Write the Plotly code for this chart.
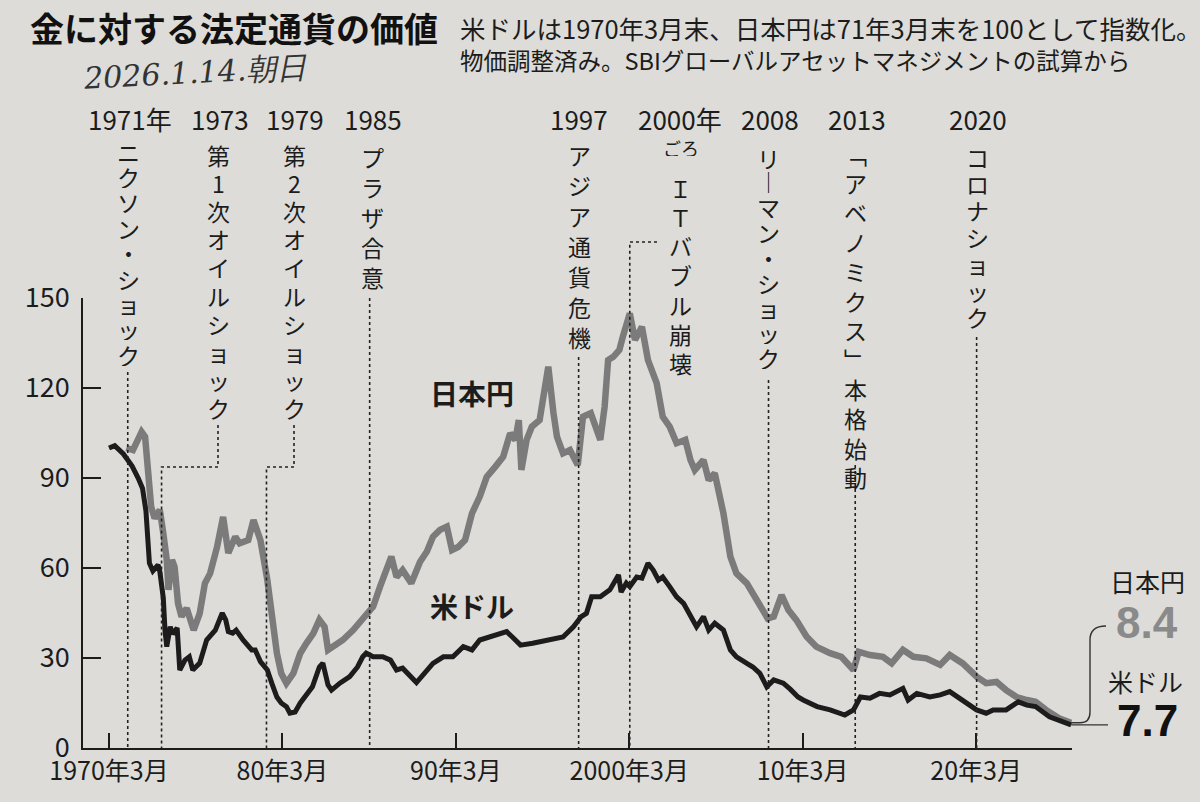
import plotly.graph_objects as go

TITLE = "金に対する法定通貨の価値"
NOTE_LINES = [
    "米ドルは1970年3月末、日本円は71年3月末を100として指数化。",
    "物価調整済み。SBIグローバルアセットマネジメントの試算から",
]
HANDWRITTEN = "2026.1.14.朝日"

# 米ドル (index, 1970年3月末 = 100)
usd_years = [
    1970.17, 1970.5, 1971.0, 1971.5, 1971.85, 1972.1, 1972.3, 1972.4, 1972.5, 1972.7,
    1973.0, 1973.1, 1973.3, 1973.4, 1973.5, 1973.7, 1973.85, 1974.1, 1974.25, 1974.55,
    1974.8, 1975.0, 1975.4, 1975.8, 1976.3, 1976.7, 1976.9, 1977.05, 1977.3, 1977.5,
    1977.9, 1978.4, 1978.6, 1978.9, 1979.3, 1979.55, 1979.85, 1980.1, 1980.4, 1980.6,
    1980.9, 1981.2, 1981.6, 1981.9, 1982.3, 1982.5, 1982.8, 1983.0, 1983.5, 1984.05,
    1984.5, 1984.8, 1985.0, 1985.4, 1985.95, 1986.4, 1986.75, 1987.1, 1987.9, 1988.5,
    1988.85, 1989.45, 1990.0, 1990.6, 1991.1, 1991.55, 1992.1, 1992.7, 1993.1, 1993.5,
    1993.9, 1994.6, 1995.6, 1996.35, 1996.95, 1997.4, 1997.7, 1998.0, 1998.5, 1999.05,
    1999.55, 1999.7, 2000.0, 2000.2, 2000.6, 2000.9, 2001.25, 2001.55, 2001.85, 2002.1,
    2002.5, 2002.9, 2003.3, 2003.7, 2004.05, 2004.45, 2004.75, 2005.1, 2005.6, 2006.0,
    2006.35, 2006.95, 2007.3, 2007.7, 2008.1, 2008.5, 2009.05, 2009.45, 2009.9, 2010.2,
    2011.0, 2011.75, 2012.6, 2013.1, 2013.5, 2014.05, 2014.6, 2015.2, 2015.95, 2016.25,
    2016.75, 2017.5, 2018.1, 2018.65, 2019.4, 2020.2, 2020.75, 2021.15, 2021.9, 2022.6,
    2023.1, 2023.6, 2024.4, 2025.1, 2025.65,
]
usd_values = [
    100, 100.8, 98, 94, 90, 86.6, 79, 67, 61.6, 59,
    61, 58.8, 50, 39, 33.8, 40.4, 38, 40, 26, 29.3,
    30.4, 26, 28.3, 36, 39.3, 45, 42.7, 38.8, 38.3, 39.3,
    36, 32.7, 32.7, 28.8, 26, 21.7, 17, 15, 13.8, 11.6,
    12, 15, 18, 20.4, 27, 28.3, 21, 19.3, 21.7, 23.8,
    27, 30.4, 31.6, 30.4, 30.4, 29.3, 26, 26.6, 21.8, 26,
    28.2, 30.4, 30.4, 33.8, 32.7, 36, 37, 38.2, 38.8, 36.6,
    34.3, 34.9, 36, 37, 40.4, 43.8, 44.9, 50.4, 50.4, 52.7,
    57.7, 52, 55, 53.8, 57, 56.6, 61.6, 59.3, 56, 57,
    53.8, 50.4, 48.2, 43.8, 40.4, 43.8, 39.3, 41.6, 39.3, 32.7,
    30.4, 28.2, 27, 24.9, 20.4, 22.7, 21.6, 19.6, 17, 16,
    13.8, 12.7, 11, 12.7, 17, 16.6, 18.2, 17.7, 19.9, 16,
    18.2, 17, 17.7, 18.8, 16, 12.7, 11.6, 12.7, 12.7, 15.4,
    14.3, 13.8, 10.4, 8.8, 7.7,
]

# 日本円 (index, 1971年3月末 = 100)
jpy_years = [
    1971.17, 1971.55, 1972.05, 1972.25, 1972.4, 1972.6, 1972.8, 1973.1, 1973.3, 1973.5,
    1973.6, 1973.8, 1973.95, 1974.15, 1974.35, 1974.65, 1975.05, 1975.4, 1975.7, 1976.0,
    1976.4, 1976.75, 1977.05, 1977.45, 1977.7, 1978.2, 1978.5, 1978.9, 1979.3, 1979.55,
    1979.85, 1980.1, 1980.4, 1980.8, 1981.2, 1981.55, 1981.95, 1982.3, 1982.6, 1982.8,
    1983.1, 1983.65, 1984.25, 1984.6, 1985.0, 1985.4, 1985.8, 1986.15, 1986.45, 1986.75,
    1987.1, 1987.6, 1988.1, 1988.5, 1988.85, 1989.25, 1989.65, 1989.95, 1990.3, 1990.7,
    1991.1, 1991.55, 1991.95, 1992.45, 1992.9, 1993.3, 1993.6, 1993.8, 1993.95, 1994.25,
    1994.55, 1995.0, 1995.5, 1995.8, 1996.0, 1996.35, 1996.75, 1997.2, 1997.5, 1997.95,
    1998.2, 1998.5, 1998.75, 1998.95, 1999.25, 1999.6, 1999.8, 2000.2, 2000.5, 2000.9,
    2001.25, 2001.75, 2002.1, 2002.5, 2002.9, 2003.4, 2003.7, 2003.95, 2004.45, 2004.75,
    2005.1, 2005.6, 2006.0, 2006.35, 2006.95, 2007.5, 2008.15, 2008.5, 2008.95, 2009.35,
    2009.8, 2010.4, 2010.95, 2011.75, 2012.4, 2013.1, 2013.4, 2014.05, 2014.8, 2015.3,
    2015.95, 2016.55, 2017.3, 2018.1, 2018.65, 2019.4, 2020.2, 2020.75, 2021.35, 2021.9,
    2022.5, 2023.1, 2023.6, 2024.2, 2024.95, 2025.65,
]
jpy_values = [
    100, 99.3, 105.4, 103.8, 93.8, 80.4, 76.6, 79.3, 71.6, 62.7,
    52.7, 62.7, 60.4, 48.2, 43.8, 46.6, 39.3, 44.9, 54.9, 58.2,
    67, 77, 65, 70.4, 68.2, 69.3, 76, 69.3, 56, 44.9,
    31.6, 24.9, 21.6, 24.9, 31.6, 34.9, 38.2, 42.7, 40.4, 32.7,
    33.8, 36, 39.3, 41.6, 44.9, 47.1, 53.8, 59.3, 63.8, 57,
    59.3, 54.9, 62, 65.5, 70.4, 72.7, 73.8, 66, 67, 69.3,
    78.2, 83.8, 90.4, 93.8, 97.1, 104.9, 102.7, 109.3, 92.7, 102.7,
    107.1, 109.3, 127.1, 111.6, 103.8, 98.2, 99.3, 94.3, 110.4, 111.6,
    107.1, 102.7, 113.8, 129.3, 130.4, 132.7, 137.1, 144.9, 136, 140.4,
    129.3, 121.6, 110.4, 107.1, 101.6, 102.7, 96, 92.7, 96, 89.3,
    91.6, 78.2, 63.8, 58.2, 54.9, 49.3, 43.2, 43.8, 51, 46,
    42.7, 37.1, 33.8, 31.6, 30.4, 26, 32.1, 31, 30.4, 28.2,
    32.7, 30.4, 29.9, 27.7, 31, 28.2, 23.8, 21.6, 22, 19.3,
    17, 16, 15.4, 12.7, 9.9, 8.4,
]

y_ticks = [0, 30, 60, 90, 120, 150]
x_ticks = [1970.17, 1980.17, 1990.17, 2000.17, 2010.17, 2020.17]
x_tick_labels = ["1970年3月", "80年3月", "90年3月", "2000年3月", "10年3月", "20年3月"]

event_years = [1971.25, 1973.2, 1979.25, 1985.2, 1997.25, 2000.2, 2008.2, 2013.2, 2020.2]
event_year_labels = ["1971年", "1973", "1979", "1985", "1997", "2000年", "2008", "2013", "2020"]
event_names = [
    "ニクソン・ショック",
    "第1次オイルショック",
    "第2次オイルショック",
    "プラザ合意",
    "アジア通貨危機",
    "ＩＴバブル崩壊",
    "リーマン・ショック",
    "「アベノミクス」本格始動",
    "コロナショック",
]

# layout geometry (pixels of the 1200x802 page)
L, R, T, B = 83, 1072, 298, 748
X0, X1 = 1968.67, 2025.7
label_px = [128, 218, 294, 372, 579, 680, 768, 855, 977]   # column of each vertical label
year_px = [130, 220, 295, 373, 579, 680, 770, 857, 978]
first_char = [151, 155, 155, 157, 155, 187, 157, 153, 157]  # centre of first glyph
char_pitch = [25.4, 28.1, 28.1, 30, 30.3, 29.3, 25, 29.4, 26.7]
line_top = [372, 425, 425, 298, 357, 242, 380, 465, 337]    # where the dotted leader starts
step_y = [None, 467, 467, None, None, 242, None, None, None]

FONT = "Noto Sans CJK JP"
PAPER = "#dddcd8"
GRAY = "#7b7b7b"
INK = "#1c1c1c"


def px_x(px):
    return (px - L) / (R - L)


def py_y(py):
    return (B - py) / (B - T)


def yr_x(year):
    return (year - X0) / (X1 - X0)


def note(x, y, text, size, color=INK, family=FONT, style="normal", **kw):
    base = dict(x=x, y=y, xref="paper", yref="paper", xanchor="center", yanchor="middle",
                text=text, showarrow=False,
                font=dict(family=family, size=size, color=color, style=style))
    base.update(kw)
    return base


fig = go.Figure()
fig.add_trace(go.Scatter(x=jpy_years, y=jpy_values, mode="lines", name="日本円",
                         line=dict(color=GRAY, width=6.5)))
fig.add_trace(go.Scatter(x=usd_years, y=usd_values, mode="lines", name="米ドル",
                         line=dict(color=INK, width=5)))

shapes = []
annotations = []
dot = dict(color="#222222", width=1.6, dash="dot")
vert_map = {"ー": "｜", "「": "﹁", "」": "﹂"}
for i, year in enumerate(event_years):
    ex = yr_x(year)
    cx = px_x(label_px[i])
    if step_y[i] is None:
        path = f"M {ex},{py_y(line_top[i])} L {ex},0"
    elif i == 5:
        path = f"M {px_x(657)},{py_y(step_y[i])} L {ex},{py_y(step_y[i])} L {ex},0"
    else:
        path = (f"M {cx},{py_y(line_top[i])} L {cx},{py_y(step_y[i])} "
                f"L {ex},{py_y(step_y[i])} L {ex},0")
    shapes.append(dict(type="path", xref="paper", yref="paper", path=path, line=dot))

    annotations.append(note(px_x(year_px[i]), py_y(118), event_year_labels[i], 26))
    # vertical (tategaki) label, one glyph per annotation, box no taller than the pitch
    for k, ch in enumerate(event_names[i]):
        annotations.append(note(cx, py_y(first_char[i] + k * char_pitch[i]),
                                vert_map.get(ch, ch), 23,
                                height=int(char_pitch[i]) - 2, borderpad=0))

annotations.append(note(px_x(681), py_y(148), "ごろ", 18, height=16, borderpad=0))

# title block
annotations += [
    note(px_x(28), py_y(28), f"<b>{TITLE}</b>", 34, "#111111", xanchor="left"),
    note(px_x(458), py_y(28), NOTE_LINES[0], 25.5, xanchor="left"),
    note(px_x(458), py_y(60), NOTE_LINES[1], 23.5, xanchor="left"),
    note(px_x(195), py_y(72), HANDWRITTEN, 30, "#333333", "DejaVu Serif", "italic",
         textangle=-3),
]

# series labels
annotations += [
    dict(x=1991.1, y=118.5, text="<b>日本円</b>", showarrow=False,
         xanchor="center", yanchor="middle", font=dict(family=FONT, size=28, color=INK)),
    dict(x=1991.1, y=47.5, text="<b>米ドル</b>", showarrow=False,
         xanchor="center", yanchor="middle", font=dict(family=FONT, size=28, color=INK)),
    note(px_x(1147), py_y(581), "日本円", 25),
    note(px_x(1147), py_y(622), f"<b>{jpy_values[-1]}</b>", 44, "#8a8a8a", "Liberation Sans"),
    note(px_x(1145), py_y(681), "米ドル", 25),
    note(px_x(1147), py_y(720), f"<b>{usd_values[-1]}</b>", 44, "#111111", "Liberation Sans"),
]

# leaders to the end values
end_x = yr_x(usd_years[-1])
yu = usd_values[-1] / 150
yj = jpy_values[-1] / 150
lead = dict(color="#333333", width=1.4)
shapes.append(dict(type="path", xref="paper", yref="paper",
                   path=f"M {end_x},{yu} L {px_x(1108)},{yu}", line=lead))
shapes.append(dict(type="path", xref="paper", yref="paper",
                   path=(f"M {end_x},{yj} L {px_x(1080)},{yj} "
                         f"Q {px_x(1090)},{yj} {px_x(1090)},{py_y(712)} "
                         f"L {px_x(1090)},{py_y(640)} "
                         f"Q {px_x(1090)},{py_y(626)} {px_x(1106)},{py_y(626)}"),
                   line=lead))

fig.update_layout(
    width=1200,
    height=802,
    paper_bgcolor=PAPER,
    plot_bgcolor=PAPER,
    showlegend=False,
    margin=dict(l=L, r=1200 - R, t=T, b=802 - B),
    shapes=shapes,
    annotations=annotations,
    xaxis=dict(
        range=[X0, X1],
        tickvals=x_ticks,
        ticktext=x_tick_labels,
        ticks="inside",
        ticklen=15,
        tickwidth=1.5,
        tickcolor=INK,
        showline=True,
        linecolor=INK,
        linewidth=1.6,
        showgrid=False,
        zeroline=False,
        tickfont=dict(family=FONT, size=25, color=INK),
    ),
    yaxis=dict(
        range=[0, 150],
        tickvals=y_ticks,
        ticks="inside",
        ticklen=18,
        tickwidth=1.5,
        tickcolor=INK,
        showline=True,
        linecolor=INK,
        linewidth=1.6,
        showgrid=False,
        zeroline=False,
        ticklabelstandoff=6,
        tickfont=dict(family=FONT, size=27, color=INK),
    ),
)

fig.write_html(
    "out.html",
    config={"displayModeBar": False},
    post_script=f"document.body.style.margin='0';document.body.style.background='{PAPER}';",
)
